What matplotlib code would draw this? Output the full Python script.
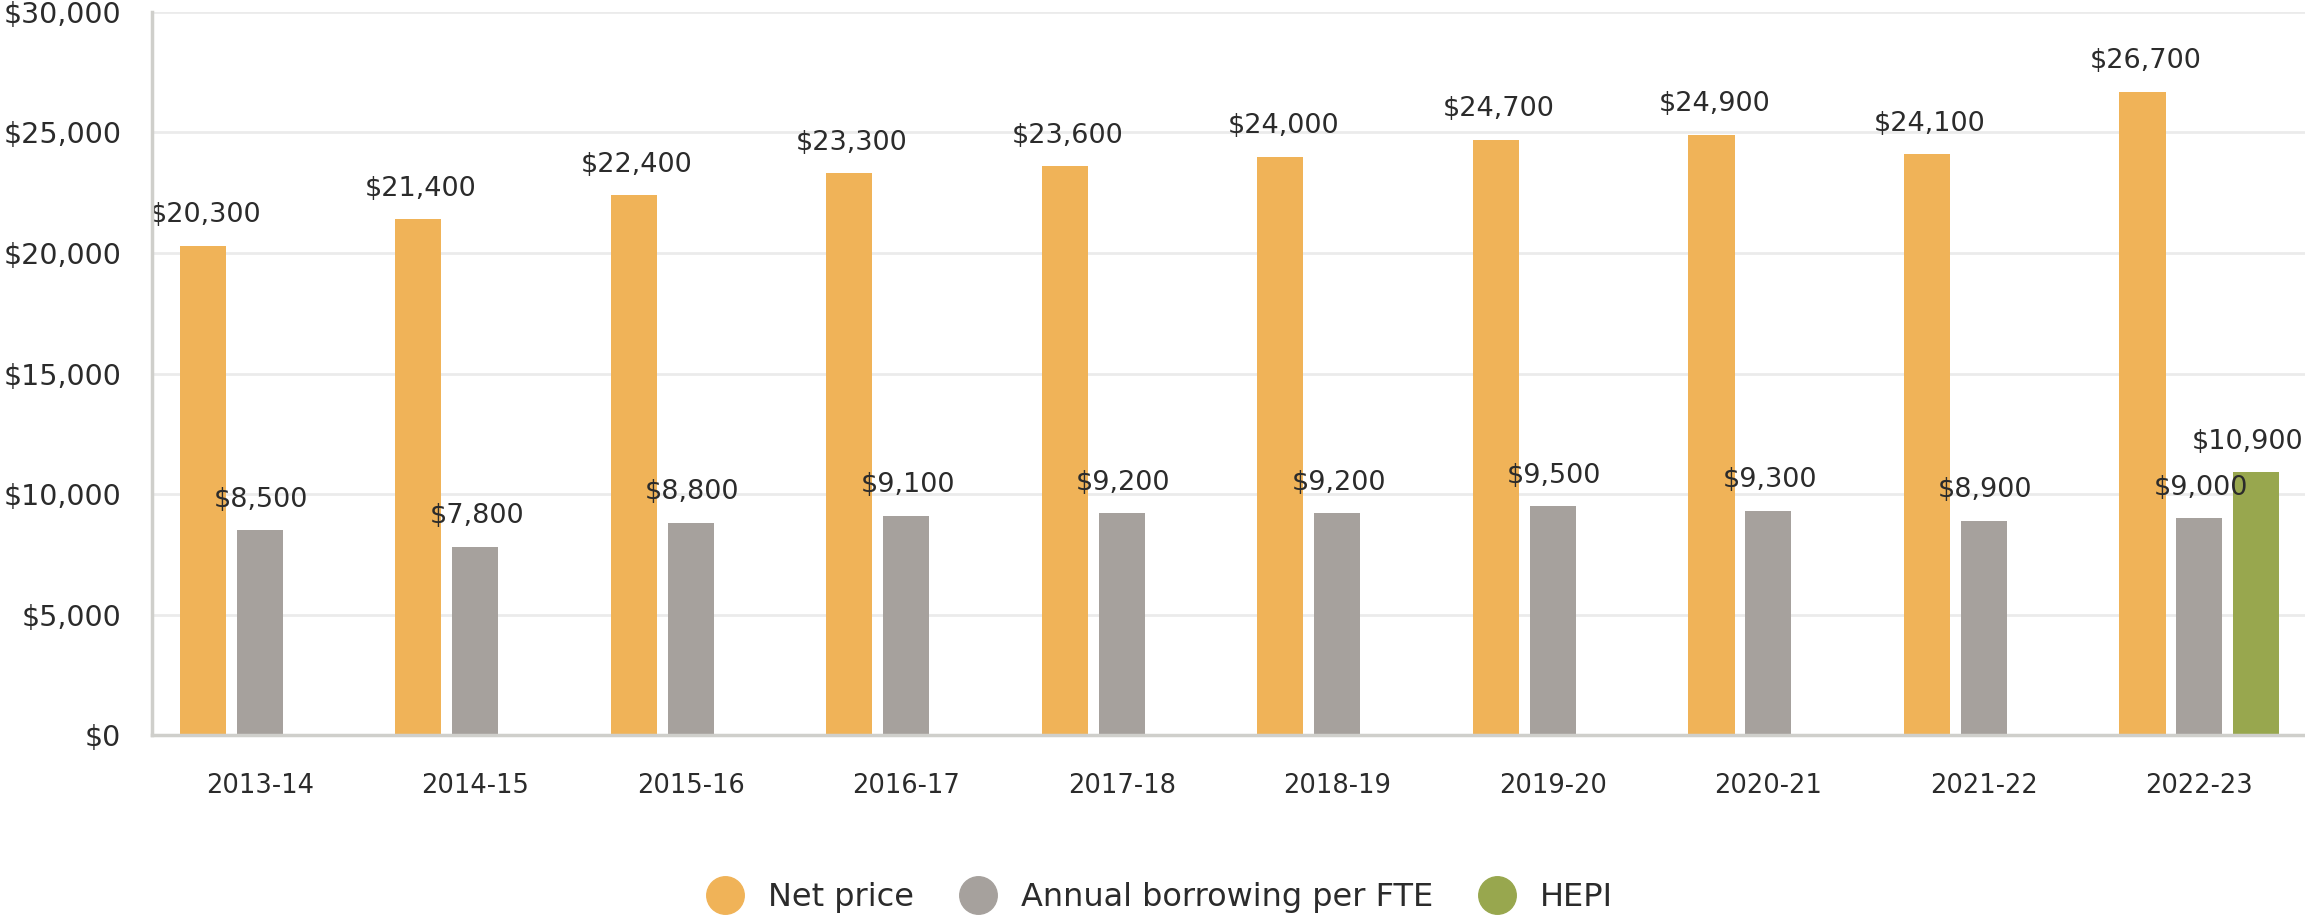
import matplotlib

matplotlib.use("Agg")
import matplotlib.pyplot as plt
from matplotlib.lines import Line2D
from matplotlib.ticker import FuncFormatter
import numpy as np

years = ["2013-14", "2014-15", "2015-16", "2016-17", "2017-18",
         "2018-19", "2019-20", "2020-21", "2021-22", "2022-23"]
net_price = [20300, 21400, 22400, 23300, 23600, 24000, 24700, 24900, 24100, 26700]
borrowing = [8500, 7800, 8800, 9100, 9200, 9200, 9500, 9300, 8900, 9000]
hepi_year = "2022-23"
hepi_value = 10900

ORANGE = "#F0B358"
GRAY = "#A6A19D"
GREEN = "#98A74E"
TEXT = "#2B2B2B"

plt.rcParams["font.family"] = ["DejaVu Sans"]

fig = plt.figure(figsize=(23.05, 9.15), dpi=100)
ax = fig.add_axes([0.0659, 0.1967, 0.9341, 0.7902])

x = np.arange(len(years))
step = 0.264
width = 0.214

b1 = ax.bar(x - step, net_price, width, color=ORANGE, zorder=3)
b2 = ax.bar(x, borrowing, width, color=GRAY, zorder=3)
hx = years.index(hepi_year)
b3 = ax.bar([hx + step], [hepi_value], width, color=GREEN, zorder=3)

# HEPI label sits at the right edge, nudge it in so it is not clipped
for bars, dx in ((b1, 2), (b2, 1), (b3, -6)):
    for r in bars:
        ax.annotate(f"${r.get_height():,.0f}",
                    (r.get_x() + r.get_width() / 2, r.get_height()),
                    xytext=(dx, 22), textcoords="offset points",
                    ha="center", va="center", fontsize=19.5, color=TEXT,
                    zorder=4, annotation_clip=False)

ax.set_xlim(-0.5, 9.49)
ax.set_ylim(0, 30000)
ax.set_yticks(range(0, 30001, 5000))
ax.yaxis.set_major_formatter(FuncFormatter(lambda v, p: f"${v:,.0f}"))
ax.set_xticks(x)
ax.set_xticklabels(years)
ax.tick_params(axis="y", length=0, pad=22, labelsize=20.5, labelcolor=TEXT)
ax.tick_params(axis="x", length=0, pad=27, labelsize=18.5, labelcolor=TEXT)

ax.grid(axis="y", color="#EBEBEB", linewidth=2, zorder=0)
ax.set_axisbelow(True)
for s in ("top", "right"):
    ax.spines[s].set_visible(False)
for s in ("left", "bottom"):
    ax.spines[s].set_color("#CFCFCB")
    ax.spines[s].set_linewidth(2.5)
    ax.spines[s].set_zorder(5)

handles = [Line2D([], [], ls="", marker="o", markersize=27, color=c)
           for c in (ORANGE, GRAY, GREEN)]
fig.legend(handles, ["Net price", "Annual borrowing per FTE", "HEPI"],
           loc="center", bbox_to_anchor=(0.503, 0.019), ncol=3, frameon=False,
           fontsize=23, labelcolor=TEXT, handletextpad=0.75, columnspacing=1.4,
           handlelength=1.2)

fig.savefig("out.png", dpi=100)
